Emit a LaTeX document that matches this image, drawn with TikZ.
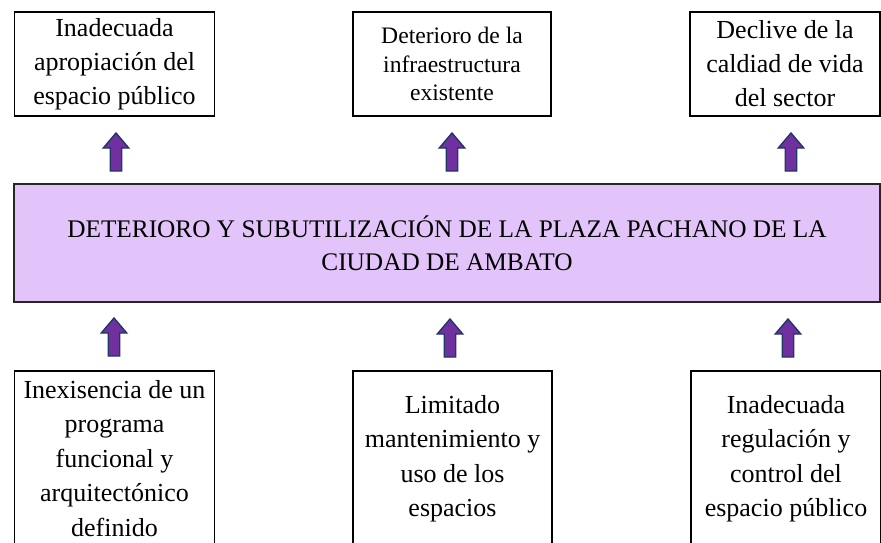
\documentclass[tikz,border=0pt]{standalone}
\usepackage{fontspec}
\setmainfont{Liberation Serif}
\definecolor{mainfill}{RGB}{226,196,250}
\definecolor{arrfill}{RGB}{112,48,160}
\definecolor{arrline}{RGB}{31,56,100}
\begin{document}
\begin{tikzpicture}[x=1pt,y=-1pt,
  boxtop/.style={draw=black,line width=1.5pt,fill=white,minimum width=200pt,minimum height=104pt,inner sep=0pt,align=center,font=\fontsize{26}{34}\selectfont},
  boxbot/.style={draw=black,line width=1.5pt,fill=white,minimum width=200pt,minimum height=175pt,inner sep=0pt,align=center,font=\fontsize{26}{34.5}\selectfont},
  mainbox/.style={draw=black!85,line width=1.2pt,fill=mainfill,minimum width=866pt,minimum height=118pt,inner sep=0pt,align=center,font=\fontsize{25.3}{33}\selectfont},
  blockarrow/.style={fill=arrfill,draw=arrline,line width=1.4pt,line join=miter}]
\useasboundingbox (0,0) rectangle (881,542);
% top boxes
\node[boxtop] (t1) at (114.5,64) {Inadecuada\\apropiación del\\espacio público};
\node[boxtop,minimum width=198pt,font=\fontsize{23.6}{28.5}\selectfont] (t2) at (452,64) {Deterioro de la\\infraestructura\\existente};
\node[boxtop,minimum width=190pt] (t3) at (785,64) {Declive de la\\caldiad de vida\\del sector};
% main box
\node[mainbox] (m) at (447,243) {DETERIORO Y SUBUTILIZACIÓN DE LA PLAZA PACHANO DE LA\\[0pt]CIUDAD DE AMBATO};
% bottom boxes
\node[boxbot] (b1) at (114.5,458.5) {Inexisencia de un\\programa\\funcional y\\arquitectónico\\definido};
\node[boxbot,minimum width=199pt] (b2) at (452.5,458.5) {Limitado\\mantenimiento y\\uso de los\\espacios};
\node[boxbot,minimum width=190pt] (b3) at (786,458.5) {Inadecuada\\regulación y\\control del\\espacio público};
% arrow bases
\coordinate (a1) at (116,171);
\coordinate (a2) at (452,171);
\coordinate (a3) at (791,171);
\coordinate (a4) at (114,356);
\coordinate (a5) at (450,357);
\coordinate (a6) at (788,357);
\foreach \c in {a1,a2,a3,a4,a5,a6}{
  \draw[blockarrow] (\c) ++(-5.75,0) -- ++(0,-23) -- ++(-7,0) -- ++(12.75,-15) -- ++(12.75,15) -- ++(-7,0) -- ++(0,23) -- cycle;
}
\end{tikzpicture}
\end{document}
